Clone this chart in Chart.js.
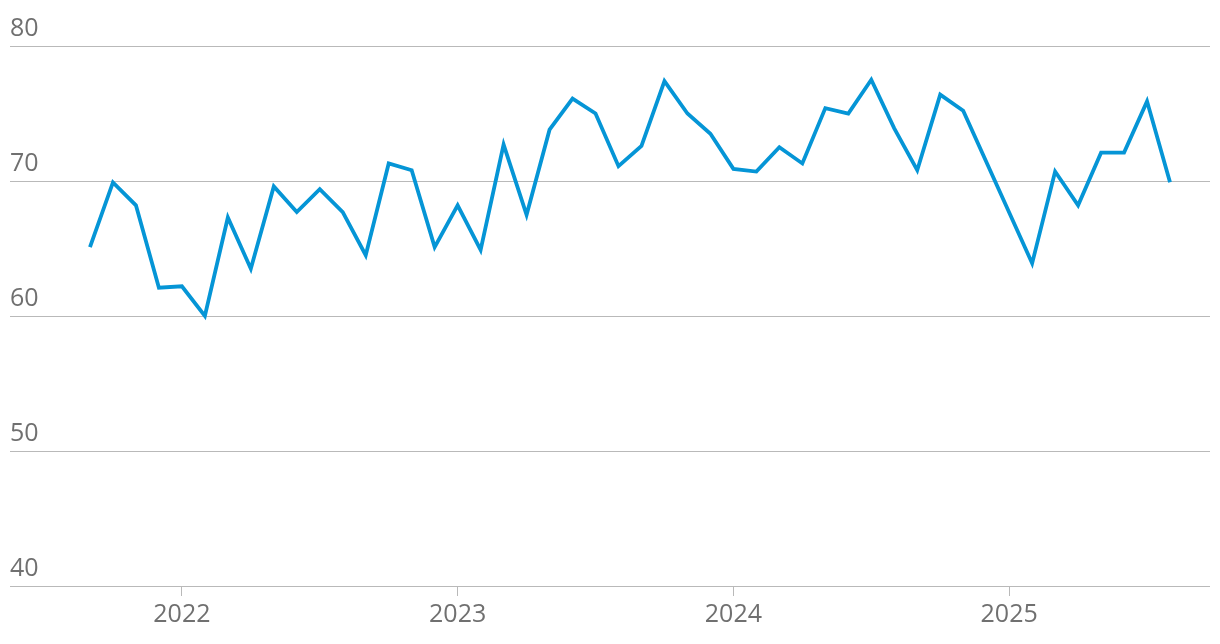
<!DOCTYPE html>
<html>
<head>
<meta charset="utf-8">
<script src="https://cdn.jsdelivr.net/npm/chart.js@4.4.1/dist/chart.umd.min.js"></script>
<style>
  html, body { margin: 0; padding: 0; background: #fff; }
  #wrap { width: 1220px; height: 644px; }
</style>
</head>
<body>
<div id="wrap"><canvas id="lineChart" width="1220" height="644"></canvas></div>
<script>
// monthly readings, Sep 2021 .. Aug 2025 (Dec 2024 / Jan 2025 missing, line spans the gap)
const months = [
  '2021-09', '2021-10', '2021-11', '2021-12',
  '2022-01', '2022-02', '2022-03', '2022-04', '2022-05', '2022-06', '2022-07', '2022-08', '2022-09', '2022-10', '2022-11', '2022-12',
  '2023-01', '2023-02', '2023-03', '2023-04', '2023-05', '2023-06', '2023-07', '2023-08', '2023-09', '2023-10', '2023-11', '2023-12',
  '2024-01', '2024-02', '2024-03', '2024-04', '2024-05', '2024-06', '2024-07', '2024-08', '2024-09', '2024-10', '2024-11', '2024-12',
  '2025-01', '2025-02', '2025-03', '2025-04', '2025-05', '2025-06', '2025-07', '2025-08'
];
const values = [
  65.1, 69.9, 68.2, 62.1,
  62.2, 60.0, 67.3, 63.5, 69.6, 67.7, 69.4, 67.7, 64.5, 71.3, 70.8, 65.1,
  68.2, 64.9, 72.7, 67.5, 73.8, 76.1, 75.0, 71.1, 72.6, 77.4, 75.0, 73.5,
  70.9, 70.7, 72.5, 71.3, 75.4, 75.0, 77.5, 73.9, 70.8, 76.4, 75.2, null,
  null, 63.9, 70.7, 68.2, 72.1, 72.1, 75.9, 69.9
];
const yearTicks = ['2022', '2023', '2024', '2025'];
const yTicks = [40, 50, 60, 70, 80];

const gridGrey = '#b9b9b9';
const labelGrey = '#707070';
const font = { family: '"Open Sans", "Noto Sans", sans-serif', size: 25 };

const points = values.map((v, i) => ({ x: i, y: v }));
const yearPos = yearTicks.map(y => months.indexOf(y + '-01'));

new Chart(document.getElementById('lineChart'), {
  type: 'line',
  data: {
    datasets: [{
      data: points,
      borderColor: '#0595d6',
      borderWidth: 3.8,
      pointRadius: 0,
      tension: 0,
      spanGaps: true,
      fill: false
    }]
  },
  options: {
    responsive: false,
    animation: false,
    events: [],
    layout: { padding: { top: 46, left: 10, right: 10, bottom: 10 } },
    plugins: { legend: { display: false }, tooltip: { enabled: false } },
    scales: {
      x: {
        type: 'linear',
        min: -3.48,
        max: 48.74,
        border: { display: false },
        grid: { drawOnChartArea: false, drawTicks: true, tickLength: 10, color: gridGrey, lineWidth: 1 },
        afterBuildTicks: axis => { axis.ticks = yearPos.map(v => ({ value: v })); },
        ticks: {
          autoSkip: false,
          maxRotation: 0,
          padding: 4,
          color: labelGrey,
          font: font,
          callback: (v) => yearTicks[yearPos.indexOf(v)]
        }
      },
      y: {
        min: 40,
        max: 80,
        border: { display: false },
        grid: { drawTicks: false, color: gridGrey, lineWidth: 1 },
        afterBuildTicks: axis => { axis.ticks = yTicks.map(v => ({ value: v })); },
        ticks: {
          mirror: true,
          padding: 0,
          labelOffset: -17,
          color: labelGrey,
          font: font
        }
      }
    }
  }
});
</script>
</body>
</html>
